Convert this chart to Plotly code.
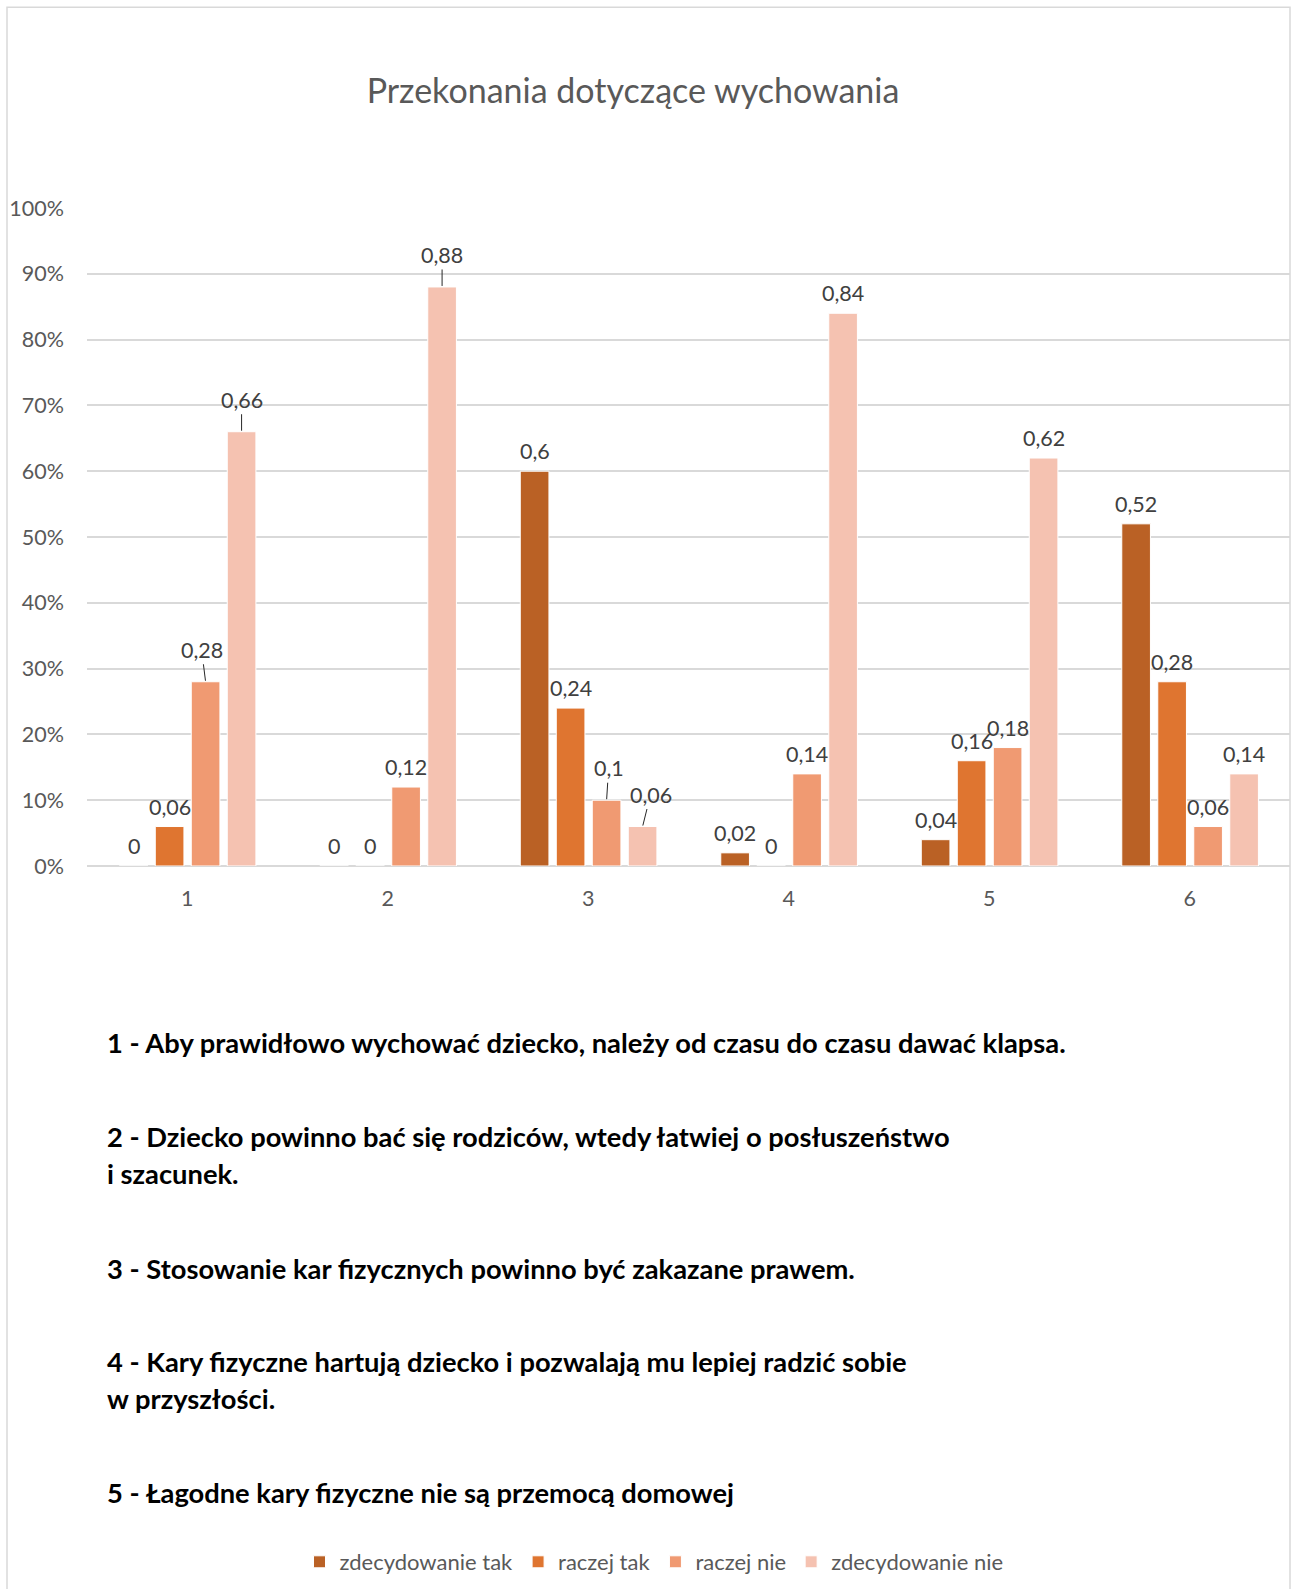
import plotly.graph_objects as go

categories = [1, 2, 3, 4, 5, 6]
series_names = ["zdecydowanie tak", "raczej tak", "raczej nie", "zdecydowanie nie"]
zdecydowanie_tak = [0, 0, 0.6, 0.02, 0.04, 0.52]
raczej_tak = [0.06, 0, 0.24, 0, 0.16, 0.28]
raczej_nie = [0.28, 0.12, 0.1, 0.14, 0.18, 0.06]
zdecydowanie_nie = [0.66, 0.88, 0.06, 0.84, 0.62, 0.14]
series_values = [zdecydowanie_tak, raczej_tak, raczej_nie, zdecydowanie_nie]
y_ticks = [0, 0.1, 0.2, 0.3, 0.4, 0.5, 0.6, 0.7, 0.8, 0.9, 1.0]
y_tick_labels = ["0%", "10%", "20%", "30%", "40%", "50%", "60%", "70%", "80%", "90%", "100%"]
title_text = "Przekonania dotyczące wychowania"
statements = [
    ["1 - Aby prawidłowo wychować dziecko, należy od czasu do czasu dawać klapsa."],
    ["2 - Dziecko powinno bać się rodziców, wtedy łatwiej o posłuszeństwo", "i szacunek."],
    ["3 - Stosowanie kar fizycznych powinno być zakazane prawem."],
    ["4 - Kary fizyczne hartują dziecko i pozwalają mu lepiej radzić sobie", "w przyszłości."],
    ["5 - Łagodne kary fizyczne nie są przemocą domowej"],
]

# ---- styling / layout ----
colors = ["#BA6125", "#DF7530", "#F09A72", "#F5C2B1"]
W, H = 1298, 1589
L, R = 87, 1290
TOP, BOT = 208, 867
bar_w = 0.143
bar_step = 0.1795
first_off = -0.339
label_font = dict(family="Lato", size=21.5, color="#404040")
axis_font = dict(family="Lato", size=21.5, color="#595959")
# label tweaks (series index, category index) -> x shift of label with leader line
leader = {(2, 0): -4, (3, 0): 0, (3, 1): 0, (2, 2): 2, (3, 2): 8}

fig = go.Figure()
for i, (name, vals) in enumerate(zip(series_names, series_values)):
    off = first_off + i * bar_step
    fig.add_trace(go.Bar(
        x=categories, y=vals, name=name,
        width=bar_w, offset=off,
        marker=dict(color=colors[i], line=dict(color="white", width=1)),
        hoverinfo="skip",
    ))

annotations = []
for i, vals in enumerate(series_values):
    off = first_off + i * bar_step
    for j, (c, v) in enumerate(zip(categories, vals)):
        txt = ("%g" % v).replace(".", ",")
        if (i, j) in leader:
            annotations.append(dict(
                x=c + off + bar_w / 2, y=v, xref="x", yref="y",
                text=txt, showarrow=True, arrowhead=0, arrowwidth=1,
                arrowcolor="#262626", ax=leader[(i, j)], ay=-32,
                standoff=1, font=label_font,
            ))
        else:
            annotations.append(dict(
                x=c + off + bar_w / 2, y=v, xref="x", yref="y",
                text=txt, showarrow=False, yanchor="bottom", yshift=5,
                font=label_font,
            ))

# statements text block
pw, ph = R - L, BOT - TOP
def px_x(x):
    return (x - L) / pw
def px_y(y):
    return (BOT - y) / ph

stmt_y = [[1044], [1138, 1175], [1270], [1363, 1400], [1494]]
for lines, ys in zip(statements, stmt_y):
    for line, yy in zip(lines, ys):
        annotations.append(dict(
            x=px_x(105), y=px_y(yy), xref="paper", yref="paper",
            xanchor="left", yanchor="middle", showarrow=False,
            text="<b>" + line + "</b>",
            font=dict(family="Lato", size=27.3, color="#000000"),
        ))

shapes = [dict(
    type="rect", xref="paper", yref="paper",
    x0=px_x(7), x1=px_x(1290), y0=px_y(1600), y1=px_y(7),
    line=dict(color="#D9D9D9", width=1.5), fillcolor="rgba(0,0,0,0)", layer="below",
)]

fig.update_layout(
    width=W, height=H,
    margin=dict(l=L, r=W - R, t=TOP, b=H - BOT),
    paper_bgcolor="white", plot_bgcolor="white",
    font=dict(family="Lato", color="#595959"),
    title=dict(text=title_text, x=633 / W, xanchor="center", y=1 - 91 / H,
               yanchor="middle", font=dict(family="Lato", size=34, color="#595959")),
    barmode="overlay",
    showlegend=True,
    legend=dict(orientation="h", x=px_x(654), xanchor="center", y=px_y(1562),
                yanchor="middle", font=dict(family="Lato", size=22, color="#595959"),
                traceorder="normal", itemclick=False, entrywidth=0),
    annotations=annotations,
    shapes=shapes,
)
fig.update_xaxes(range=[0.5, 6.5], tickmode="array", tickvals=categories,
                 ticktext=[str(c) for c in categories], showgrid=False,
                 zeroline=False, showline=False, ticks="", ticklabelstandoff=17,
                 tickfont=axis_font)
fig.update_yaxes(range=[0, 1.0], tickmode="array", tickvals=y_ticks,
                 ticktext=y_tick_labels, showgrid=True, gridcolor="#D9D9D9",
                 gridwidth=1.5, zeroline=True, zerolinecolor="#D9D9D9",
                 zerolinewidth=1.5, ticks="", ticklabelstandoff=22,
                 tickfont=axis_font)

fig.write_html("out.html", config={"displayModeBar": False},
               post_script="document.body.style.margin='0px';")
